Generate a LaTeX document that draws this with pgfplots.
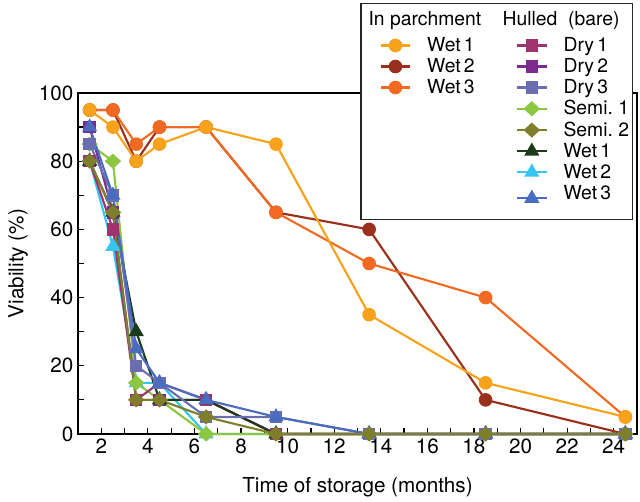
\documentclass[border=0pt]{standalone}
\usepackage{fontspec}
\setmainfont{TeX Gyre Heros}
\usepackage{pgfplots}
\pgfplotsset{compat=1.18}
\definecolor{cPA}{HTML}{F7A21B}
\definecolor{cPB}{HTML}{9A2F1C}
\definecolor{cPC}{HTML}{F26A21}
\definecolor{cDA}{HTML}{A0336E}
\definecolor{cDB}{HTML}{7B2A8E}
\definecolor{cDC}{HTML}{6A6DB0}
\definecolor{cSA}{HTML}{8DC63F}
\definecolor{cSB}{HTML}{7F7F2B}
\definecolor{cWA}{HTML}{1B3A1B}
\definecolor{cWB}{HTML}{35C5F2}
\definecolor{cWC}{HTML}{4A6CC0}
\pgfplotsset{
  base/.style={line width=1.6pt, mark options={solid}},
  circ/.style={base, color=#1, mark=*, mark size=4.3pt, mark options={fill=#1, draw=#1}},
  sqr/.style={base, color=#1, mark=square*, mark size=3.9pt, mark options={fill=#1, draw=#1}},
  dia/.style={base, color=#1, mark=diamond*, mark size=4.6pt, mark options={fill=#1, draw=#1, xscale=1.45}},
  tri/.style={base, color=#1, mark=triangle*, mark size=5pt, mark options={fill=#1, draw=#1}},
}
\newcommand{\LL}[1]{\makebox[46.5pt][l]{#1}}
\newcommand{\RR}[1]{\makebox[46.5pt][l]{#1}}
\begin{document}
\begin{tikzpicture}
\begin{axis}[
  width=419.25pt, height=255.75pt, scale only axis,
  xmin=1, xmax=25, ymin=0, ymax=100,
  xtick={2,4,...,24}, minor xtick={1,3,...,25},
  ytick={0,20,...,100}, minor ytick={10,30,...,90},
  tick align=inside, xtick pos=bottom, ytick pos=left,
  major tick length=4.5pt, minor tick length=4.5pt,
  every tick/.style={black, line width=0.9pt},
  axis line style={black, line width=1.1pt},
  /pgf/number format/assume math mode=true,
  tick label style={font=\fontsize{15.5}{18}\selectfont},
  label style={font=\fontsize{15.5}{18}\selectfont},
  xlabel={Time of storage (months)},
  ylabel={Viability (\%)},
  xlabel style={at={(axis description cs:0.5,-0.155)}, anchor=center},
  ylabel style={at={(axis description cs:-0.107,0.5)}, anchor=center},
  clip=false,
  legend columns=2,
  legend cell align=left,
  legend image code/.code={\path (-11pt,0pt); \draw[mark repeat=2,mark phase=2] plot coordinates {(0pt,0pt) (11pt,0pt) (22pt,0pt)};},
  legend style={at={(axis description cs:0.9928,1.2639)}, anchor=north east,
    draw=black!85, line width=1.1pt, fill=white,
    inner xsep=3pt, inner ysep=4pt,
    font=\fontsize{14.5}{16}\selectfont, row sep=-0.3pt,
    /tikz/every odd column/.append style={column sep=10pt},
    /tikz/every even column/.append style={column sep=7.2pt}},
]
% parchment
\addplot[circ=cPB, forget plot] coordinates {(1.5,95) (2.5,95) (3.5,80) (4.5,90) (6.5,90) (9.5,65) (13.5,60) (18.5,10) (24.5,0)};
\addplot[circ=cPC, forget plot] coordinates {(1.5,95) (2.5,95) (3.5,85) (4.5,90) (6.5,90) (9.5,65) (13.5,50) (18.5,40) (24.5,5)};
\addplot[circ=cPA, forget plot] coordinates {(1.5,95) (2.5,90) (3.5,80) (4.5,85) (6.5,90) (9.5,85) (13.5,35) (18.5,15) (24.5,5)};
% hulled
\addplot[tri=cWB, forget plot] coordinates {(1.5,80) (2.5,55) (3.5,15) (4.5,15) (6.5,0) (9.5,0) (13.5,0) (18.5,0) (24.5,0)};
\addplot[dia=cSA, forget plot] coordinates {(1.5,85) (2.5,80) (3.5,15) (4.5,10) (6.5,0) (9.5,0) (13.5,0) (18.5,0) (24.5,0)};
\addplot[sqr=cDB, forget plot] coordinates {(1.5,90) (2.5,65) (3.5,10) (4.5,10) (6.5,10) (9.5,0) (13.5,0) (18.5,0) (24.5,0)};
\addplot[sqr=cDA, forget plot] coordinates {(1.5,80) (2.5,60) (3.5,10) (4.5,15) (6.5,10) (9.5,0) (13.5,0) (18.5,0) (24.5,0)};
\addplot[tri=cWA, forget plot] coordinates {(1.5,80) (2.5,65) (3.5,30) (4.5,10) (6.5,10) (9.5,0) (13.5,0) (18.5,0) (24.5,0)};
\addplot[sqr=cDC, forget plot] coordinates {(1.5,85) (2.5,70) (3.5,20) (4.5,15) (6.5,5) (9.5,5) (13.5,0) (18.5,0) (24.5,0)};
\addplot[tri=cWC, forget plot] coordinates {(1.5,90) (2.5,70) (3.5,25) (4.5,15) (6.5,10) (9.5,5) (13.5,0) (18.5,0) (24.5,0)};
\addplot[dia=cSB, forget plot] coordinates {(1.5,80) (2.5,65) (3.5,10) (4.5,10) (6.5,5) (9.5,0) (13.5,0) (18.5,0) (24.5,0)};
% legend
\addlegendimage{empty legend}\addlegendentry[text depth=5pt]{\hspace*{-44pt}\makebox[90.5pt][l]{In parchment}}
\addlegendimage{empty legend}\addlegendentry[text depth=5pt]{\hspace*{-45.75pt}\makebox[92.25pt][l]{Hulled\ \ (bare)}}
\addlegendimage{circ=cPA}\addlegendentry{\LL{Wet\,1}}
\addlegendimage{sqr=cDA}\addlegendentry{\RR{Dry\,1}}
\addlegendimage{circ=cPB}\addlegendentry{\LL{Wet\,2}}
\addlegendimage{sqr=cDB}\addlegendentry{\RR{Dry\,2}}
\addlegendimage{circ=cPC}\addlegendentry{\LL{Wet\,3}}
\addlegendimage{sqr=cDC}\addlegendentry{\RR{Dry\,3}}
\addlegendimage{empty legend}\addlegendentry{}
\addlegendimage{dia=cSA}\addlegendentry{\RR{Semi.\ 1}}
\addlegendimage{empty legend}\addlegendentry{}
\addlegendimage{dia=cSB}\addlegendentry{\RR{Semi.\ 2}}
\addlegendimage{empty legend}\addlegendentry{}
\addlegendimage{tri=cWA}\addlegendentry{\RR{Wet\,1}}
\addlegendimage{empty legend}\addlegendentry{}
\addlegendimage{tri=cWB}\addlegendentry{\RR{Wet\,2}}
\addlegendimage{empty legend}\addlegendentry[text depth=9pt]{}
\addlegendimage{tri=cWC}\addlegendentry[text depth=9pt]{\RR{Wet\,3}}
\end{axis}
\path (-58.5pt,-48pt) rectangle (421.5pt,325.5pt);
\end{tikzpicture}
\end{document}
